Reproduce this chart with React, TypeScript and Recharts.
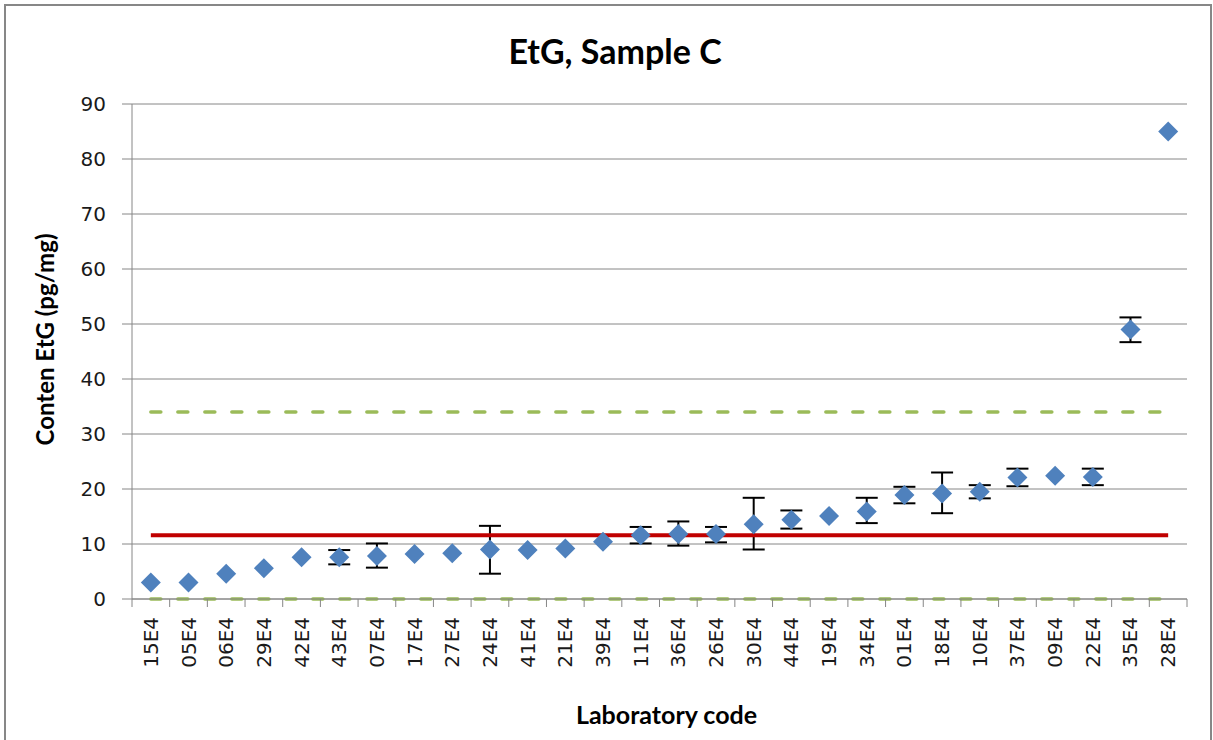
import { ComposedChart, Scatter, Line, XAxis, YAxis, CartesianGrid, ErrorBar } from "recharts";

const labs = [
  "15E4", "05E4", "06E4", "29E4", "42E4", "43E4", "07E4", "17E4", "27E4", "24E4",
  "41E4", "21E4", "39E4", "11E4", "36E4", "26E4", "30E4", "44E4", "19E4", "34E4",
  "01E4", "18E4", "10E4", "37E4", "09E4", "22E4", "35E4", "28E4",
];
const content = [
  3.0, 3.0, 4.6, 5.6, 7.6, 7.6, 7.8, 8.2, 8.3, 9.0,
  8.9, 9.2, 10.4, 11.6, 11.8, 11.8, 13.6, 14.4, 15.1, 15.9,
  18.9, 19.2, 19.5, 22.1, 22.4, 22.2, 49.0, 85.0,
];
// error bar extent below / above the point (null = no bar)
const errBelow = [
  null, null, null, null, null, 1.3, 2.1, null, null, 4.4,
  null, null, null, 1.5, 2.1, 1.5, 4.6, 1.6, null, 2.1,
  1.5, 3.6, 1.2, 1.6, null, 1.5, 2.3, null,
];
const errAbove = [
  null, null, null, null, null, 1.3, 2.3, null, null, 4.3,
  null, null, null, 1.5, 2.3, 1.3, 4.8, 1.7, null, 2.5,
  1.5, 3.8, 1.2, 1.6, null, 1.5, 2.2, null,
];
const assigned = 11.6;
const upperLimit = 34.0;
const lowerLimit = 0;
const yTicks = [0, 10, 20, 30, 40, 50, 60, 70, 80, 90];

const rows = labs.map((lab, i) => ({
  lab,
  value: content[i],
  err: errBelow[i] == null ? null : [errBelow[i], errAbove[i]],
  mean: assigned,
  upper: upperLimit,
  lower: lowerLimit,
}));

const W = 1213;
const H = 740;
const LEFT = 132;
const RIGHT = 26;
const HALF_BAND = (W - LEFT - RIGHT) / labs.length / 2;
const TICK_SIZE = 8;
const TICK_GAP = 10;
const GRID = "#868686";

function Diamond(props: any) {
  const { cx, cy } = props;
  if (cx == null || cy == null) return null;
  const r = 10;
  return (
    <polygon
      points={`${cx},${cy - r} ${cx + r},${cy} ${cx},${cy + r} ${cx - r},${cy}`}
      fill="#4F81BD"
    />
  );
}

const NoShape = () => <g />;

function LabTick(props: any) {
  const { x, y, payload, index } = props;
  const axisY = y - TICK_SIZE - TICK_GAP;
  return (
    <g>
      <line x1={x - HALF_BAND} x2={x - HALF_BAND} y1={axisY} y2={axisY + TICK_SIZE} stroke={GRID} />
      {index === labs.length - 1 && (
        <line x1={x + HALF_BAND} x2={x + HALF_BAND} y1={axisY} y2={axisY + TICK_SIZE} stroke={GRID} />
      )}
      <text
        transform={`translate(${x},${y}) rotate(-90)`}
        textAnchor="end"
        dominantBaseline="central"
        fontFamily="DejaVu Sans"
        fontSize={20}
        fill="#1a1a1a"
      >
        {payload.value}
      </text>
    </g>
  );
}

export default function App() {
  return (
    <div style={{ position: "absolute", left: 0, top: 0, width: W, height: H, background: "#fff", overflow: "hidden" }}>
      <div
        style={{
          position: "absolute",
          left: 4,
          top: 4,
          width: 1204,
          height: 780,
          border: "2px solid #878787",
        }}
      />
      <div
        style={{
          position: "absolute",
          left: 0,
          width: 1230,
          top: 30,
          textAlign: "center",
          fontFamily: "Lato",
          fontWeight: 700,
          fontSize: 34,
          color: "#000",
        }}
      >
        EtG, Sample C
      </div>
      <div style={{ position: "absolute", left: 0, top: 0 }}>
        <ComposedChart width={W} height={H} data={rows} margin={{ top: 104, right: RIGHT, bottom: 0, left: 0 }}>
          <CartesianGrid vertical={false} stroke={GRID} />
          <XAxis
            dataKey="lab"
            scale="band"
            interval={0}
            height={H - 104 - 495}
            tickLine={false}
            tickSize={TICK_SIZE}
            tickMargin={TICK_GAP}
            axisLine={{ stroke: GRID }}
            tick={<LabTick />}
            label={{
              content: (p: any) => (
                <text
                  x={p.viewBox.x + p.viewBox.width / 2 + 7}
                  y={724}
                  textAnchor="middle"
                  fontFamily="Lato"
                  fontWeight={700}
                  fontSize={25}
                  fill="#000"
                >
                  Laboratory code
                </text>
              ),
            }}
          />
          <YAxis
            width={LEFT}
            domain={[0, 90]}
            ticks={yTicks}
            interval={0}
            tickSize={10}
            tickMargin={16}
            axisLine={{ stroke: GRID }}
            tickLine={{ stroke: GRID }}
            tick={{ fill: "#1a1a1a", fontSize: 20, fontFamily: "DejaVu Sans" }}
            label={{
              content: (p: any) => (
                <text
                  transform={`translate(54,${p.viewBox.y + p.viewBox.height / 2 - 12}) rotate(-90)`}
                  textAnchor="middle"
                  fontFamily="Lato"
                  fontWeight={700}
                  fontSize={24}
                  fill="#000"
                >
                  Conten EtG (pg/mg)
                </text>
              ),
            }}
          />
          {/* error bars first so the diamonds sit on top of them */}
          <Scatter dataKey="value" shape={<NoShape />} isAnimationActive={false}>
            <ErrorBar dataKey="err" direction="y" width={11} stroke="#000" strokeWidth={2} />
          </Scatter>
          <Scatter dataKey="value" shape={<Diamond />} isAnimationActive={false} />
          <Line
            dataKey="lower"
            stroke="#9BBB59"
            strokeWidth={3.5}
            strokeDasharray="10 17"
            strokeLinecap="round"
            dot={false}
            activeDot={false}
            isAnimationActive={false}
          />
          <Line
            dataKey="upper"
            stroke="#9BBB59"
            strokeWidth={3.5}
            strokeDasharray="10 17"
            strokeLinecap="round"
            dot={false}
            activeDot={false}
            isAnimationActive={false}
          />
          <Line
            dataKey="mean"
            stroke="#C00000"
            strokeWidth={4}
            dot={false}
            activeDot={false}
            isAnimationActive={false}
          />
        </ComposedChart>
      </div>
    </div>
  );
}
